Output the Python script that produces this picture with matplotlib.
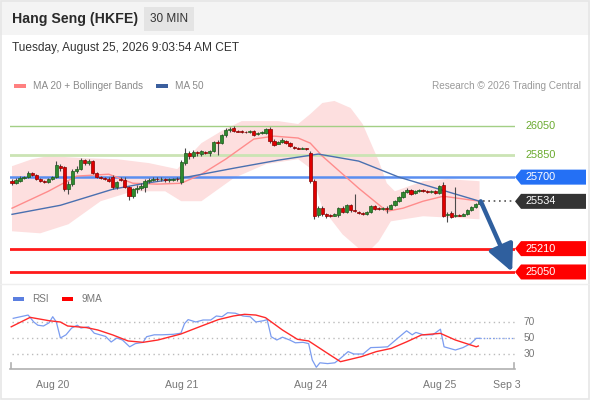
import numpy as np
import matplotlib
matplotlib.use("Agg")
import matplotlib.pyplot as plt
from matplotlib.patches import Rectangle, Polygon
from matplotlib.lines import Line2D

plt.rcParams['font.family'] = ['Liberation Sans', 'DejaVu Sans']

# ---------------- data ----------------
title = "Hang Seng (HKFE)"
timeframe = "30 MIN"
timestamp = "Tuesday, August 25, 2026 9:03:54 AM CET"
credit = "Research \u00a9 2026 Trading Central"

open_ = [25672, 25658, 25672, 25693, 25700, 25727, 25713, 25686, 25672, 25665,
         25686, 25700, 25775, 25768, 25617, 25652, 25741, 25755, 25816, 25796,
         25810, 25727, 25700, 25693, 25690, 25700, 25631, 25686, 25680, 25631,
         25569, 25617, 25624, 25631, 25672, 25679, 25686, 25684, 25688, 25679,
         25682, 25686,
         25665, 25796, 25864, 25844, 25871, 25858, 25871, 25868, 25878, 25940,
         25933, 25988, 26023, 26036, 26016, 26012, 26009, 26006, 26016, 25995,
         26002, 26002, 26029, 25947, 25926, 25940, 25947, 25933, 25906, 25899,
         25896, 25899,
         25864, 25672, 25438, 25487, 25445, 25438, 25435, 25438, 25487, 25459,
         25507, 25473, 25459, 25452, 25445, 25459, 25500, 25487, 25480, 25487,
         25484, 25507, 25535, 25562, 25597, 25610, 25590, 25603, 25610, 25603,
         25597, 25603, 25590,
         25645, 25438, 25452, 25432, 25438, 25435, 25445, 25473, 25494, 25514]
high = [25686, 25693, 25707, 25707, 25741, 25734, 25720, 25693, 25679, 25693,
        25707, 25810, 25789, 25775, 25672, 25755, 25775, 25830, 25823, 25823,
        25816, 25734, 25707, 25700, 25700, 25713, 25672, 25700, 25700, 25638,
        25624, 25645, 25658, 25686, 25693, 25700, 25700, 25700, 25693, 25693,
        25693, 25700,
        25816, 25899, 25878, 25885, 25878, 25885, 25878, 25885, 25947, 25954,
        25995, 26036, 26043, 26050, 26023, 26023, 26016, 26023, 26023, 26009,
        26016, 26036, 26043, 25961, 25947, 25968, 25954, 25940, 25910, 25906,
        25906, 25903,
        25878, 25686, 25500, 25500, 25452, 25445, 25452, 25494, 25500, 25514,
        25514, 25583, 25466, 25459, 25466, 25507, 25507, 25494, 25494, 25500,
        25514, 25542, 25569, 25603, 25624, 25617, 25610, 25617, 25617, 25610,
        25610, 25610, 25645,
        25665, 25459, 25466, 25631, 25445, 25452, 25480, 25500, 25521, 25540]
low = [25645, 25652, 25665, 25686, 25693, 25707, 25679, 25665, 25658, 25658,
       25679, 25693, 25741, 25603, 25583, 25638, 25727, 25748, 25782, 25782,
       25720, 25693, 25686, 25679, 25665, 25617, 25617, 25672, 25624, 25542,
       25555, 25590, 25610, 25597, 25658, 25672, 25672, 25672, 25665, 25665,
       25672, 25672,
       25652, 25782, 25823, 25830, 25844, 25844, 25858, 25844, 25871, 25851,
       25926, 25974, 26009, 26009, 26009, 26002, 26002, 26002, 25981, 25988,
       25995, 25995, 25933, 25913, 25926, 25936, 25926, 25906, 25892, 25892,
       25892, 25885,
       25658, 25411, 25425, 25432, 25418, 25425, 25432, 25425, 25452, 25452,
       25459, 25459, 25445, 25438, 25438, 25452, 25473, 25473, 25476, 25452,
       25480, 25500, 25528, 25555, 25590, 25576, 25583, 25597, 25597, 25590,
       25590, 25583, 25583,
       25425, 25390, 25418, 25425, 25432, 25432, 25438, 25466, 25487, 25507]
close = [25658, 25679, 25693, 25700, 25727, 25713, 25686, 25672, 25665, 25686,
         25700, 25782, 25761, 25617, 25652, 25741, 25755, 25816, 25796, 25810,
         25727, 25700, 25693, 25690, 25672, 25631, 25665, 25680, 25631, 25569,
         25617, 25624, 25638, 25672, 25679, 25686, 25684, 25688, 25679, 25682,
         25686, 25684,
         25803, 25864, 25844, 25871, 25864, 25878, 25868, 25878, 25940, 25936,
         25988, 26023, 26029, 26016, 26012, 26009, 26006, 26016, 25988, 26002,
         26009, 26029, 25947, 25919, 25940, 25954, 25933, 25913, 25899, 25896,
         25899, 25892,
         25672, 25432, 25487, 25445, 25432, 25435, 25445, 25487, 25459, 25507,
         25473, 25466, 25452, 25445, 25459, 25500, 25480, 25480, 25487, 25484,
         25507, 25535, 25562, 25597, 25610, 25583, 25603, 25610, 25603, 25597,
         25603, 25590, 25638,
         25432, 25445, 25425, 25438, 25435, 25445, 25473, 25494, 25514, 25534]

ma20_idx = [0, 9, 16, 24, 30, 36, 42, 47, 53, 60, 65, 71, 74, 77, 86, 93, 97, 102, 107, 116]
ma20_val = [25487, 25603, 25707, 25720, 25658, 25652, 25658, 25720, 25823, 25961,
            25981, 25968, 25933, 25844, 25624, 25466, 25487, 25535, 25569, 25535]

ma50_idx = [0, 12, 25, 33, 42, 55, 66, 76, 86, 96, 106, 116]
ma50_val = [25445, 25507, 25617, 25658, 25693, 25761, 25816, 25858, 25810, 25700, 25617, 25535]

bb_up_idx = [0, 5, 9, 18, 26, 34, 41, 47, 52, 57, 66, 71, 74, 77, 80, 84, 87, 91, 93, 95, 102, 108, 116]
bb_up_val = [25775, 25823, 25844, 25830, 25823, 25796, 25755, 25933, 26016, 26084, 26084,
             26064, 26132, 26208, 26222, 26174, 26064, 25810, 25658, 25603, 25672, 25686, 25672]
bb_lo_idx = [0, 7, 14, 22, 30, 38, 42, 47, 55, 63, 71, 74, 77, 82, 86, 89, 91, 94, 102, 116]
bb_lo_val = [25329, 25315, 25377, 25535, 25603, 25603, 25535, 25535, 25693, 25789, 25823,
             25761, 25487, 25308, 25212, 25205, 25260, 25397, 25432, 25411]

rsi_idx = [0.3, 4.0, 5.4, 6.4, 7.8, 9.2, 10.1, 11.0, 12.0, 13.4, 14.8, 16.2, 17.1, 19.0,
           20.4, 21.8, 23.2, 24.6, 26.0, 27.4, 29.2, 30.6, 32.5, 33.4, 35.3, 37.2, 40.0,
           41.9, 42.8, 43.7, 45.6, 47.4, 49.3, 50.7, 52.1, 53.5, 55.4, 57.3, 59.1, 60.5,
           62.4, 63.3, 64.3, 65.7, 67.1, 68.9, 70.3, 72.2, 73.6, 74.5, 75.5, 76.4, 78.3,
           80.1, 81.5, 83.4, 84.8, 87.1, 89.0, 91.3, 93.2, 96.0, 97.9, 99.3, 100.2, 102.1,
           104.4, 106.3, 107.2, 110.0, 111.9, 113.8, 115.2, 116.1]
rsi_val = [74.6, 78.7, 70, 66, 65, 69, 76.6, 70, 50, 54, 62.5, 66, 62.5, 64,
           56, 54, 52, 45, 50, 47.5, 39, 43, 44.5, 51.6, 54, 54, 54.6,
           56, 68, 73, 70, 72.5, 72.5, 77.5, 76.6, 81.6, 81, 77.5, 76.6, 70,
           71.6, 73, 51.6, 47.5, 51, 47.5, 44, 44.6, 43, 22.5, 13.4, 19, 18,
           19, 24.6, 33, 30, 30, 38, 38.4, 39, 51, 59, 54, 57, 54,
           54, 61, 39, 35, 38, 43, 49.6, 49.6]
rsi_ma_idx = [-0.2, 4.5, 9.2, 12.0, 13.8, 18.5, 21.3, 25.0, 28.8, 32.5, 36.2, 41.9, 46.5,
              51.2, 54.9, 57.7, 60.5, 62.9, 67.1, 70.8, 73.6, 78.3, 81.5, 86.7, 90.4,
              94.1, 98.0, 101.6, 106.3, 110.0, 115.2, 115.7]
rsi_ma_val = [64, 75.8, 71.6, 70, 65, 63, 60, 53.8, 46.3, 44.6, 47.5, 55, 64,
              73, 77.5, 79.6, 78.7, 75.4, 60, 48.4, 46.3, 30.8, 20.4, 26.7, 33,
              37, 45.4, 53.8, 55.8, 47.5, 39, 40]
rsi_levels = [70, 50, 30]

tick_pos = [10.2, 42.2, 74.2, 106.2, 122.8]
tick_labels = ["Aug 20", "Aug 21", "Aug 24", "Aug 25", "Sep 3"]

resistances = [26050, 25850]
pivot = 25700
last_price = 25534
supports = [25210, 25050]
target_idx = 124.1

# ---------------- figure ----------------
W, H = 590, 400
fig = plt.figure(figsize=(W / 100, H / 100), dpi=100)
fig.patch.set_facecolor("white")

def fx(px):
    return px / W

def fy(py):
    return 1 - py / H

# header band + border
fig.patches.append(Rectangle((0, fy(35)), 1, fy(0) - fy(35), transform=fig.transFigure,
                             facecolor="#f4f4f4", edgecolor="none", zorder=0))
fig.patches.append(Rectangle((fx(144), fy(31)), fx(50), fy(7) - fy(31), transform=fig.transFigure,
                             facecolor="#e4e4e4", edgecolor="none", zorder=1))
fig.patches.append(Rectangle((0.001, 0.002), 0.997, 0.996, transform=fig.transFigure,
                             facecolor="none", edgecolor="#e6e6e6", lw=1.2, zorder=1))
fig.lines.append(Line2D([0, 1], [fy(284), fy(284)], transform=fig.transFigure,
                        color="#eeeeee", lw=1))

fig.text(fx(12), fy(19), title, fontsize=10.2, fontweight="bold", color="#2a2a2a", va="center")
fig.text(fx(169), fy(19), timeframe, fontsize=8.5, color="#333333", va="center", ha="center")
fig.text(fx(12), fy(48), timestamp, fontsize=8.6, color="#333333", va="center")

# legend row
fig.patches.append(Rectangle((fx(14), fy(88)), fx(12), fy(84) - fy(88), transform=fig.transFigure,
                             facecolor="#ff8080", edgecolor="none"))
fig.text(fx(33), fy(86), "MA 20 + Bollinger Bands", fontsize=7.2, color="#8a8a8a", va="center")
fig.patches.append(Rectangle((fx(156), fy(88)), fx(12), fy(84) - fy(88), transform=fig.transFigure,
                             facecolor="#3b5f9e", edgecolor="none"))
fig.text(fx(175), fy(86), "MA 50", fontsize=7.2, color="#8a8a8a", va="center")
fig.text(fx(581), fy(86), credit, fontsize=7.2, color="#9a9a9a", va="center", ha="right")

# ---------------- main price axes ----------------
ax = fig.add_axes([fx(10), fy(283.5), fx(505), fy(96) - fy(283.5)])
ax.set_xlim(-0.5, 124.8)
ax.set_ylim(24971, 26256)
ax.axis("off")

# bollinger band and MAs
ax.fill(np.r_[bb_up_idx, bb_lo_idx[::-1]], np.r_[bb_up_val, bb_lo_val[::-1]],
        color="#fddfdf", lw=0, zorder=1)
ax.plot(ma20_idx, ma20_val, color="#ff8c8c", lw=1.0, zorder=3)
ax.plot(ma50_idx, ma50_val, color="#4a70b0", lw=1.0, zorder=3)

# level lines
x0, x1 = ax.get_xlim()
ax.plot([x0, x1], [resistances[0]] * 2, color="#a3cf85", lw=1.0, zorder=2)
ax.plot([x0, x1], [resistances[1]] * 2, color="#cbe4b4", lw=2.0, zorder=2)
ax.plot([x0, x1], [pivot] * 2, color="#5a8ef0", lw=1.8, zorder=2)
for s in supports:
    ax.plot([x0, x1], [s] * 2, color="#ff1a1a", lw=2.0, zorder=2)
ax.plot([len(close) - 0.2, x1], [last_price] * 2, color="#555555", lw=1.2,
        ls=(0, (1, 2.2)), zorder=2)

# candles
idx = np.arange(len(close))
o = np.array(open_, float)
c = np.array(close, float)
h = np.array(high, float)
l = np.array(low, float)
ax.vlines(idx, l, h, color="#4a4a4a", lw=0.8, zorder=4)
up = c >= o
body_lo = np.minimum(o, c)
body_h = np.maximum(np.abs(c - o), 5)
ax.bar(idx[up], body_h[up], bottom=body_lo[up], width=0.8, color="#2f8a2f",
       edgecolor="#1d5a1d", lw=0.5, zorder=5)
ax.bar(idx[~up], body_h[~up], bottom=body_lo[~up], width=0.8, color="#e00000",
       edgecolor="#8a0000", lw=0.5, zorder=5)

# forecast arrow
ax.annotate("", xy=(target_idx, supports[1]), xytext=(len(close) - 0.7, last_price),
            arrowprops=dict(arrowstyle="-|>,head_length=1.35,head_width=0.65", lw=3.2,
                            color="#2f5f9e", shrinkA=0, shrinkB=0, mutation_scale=12),
            annotation_clip=False, zorder=6)

# right-side labels
fig.canvas.draw()
def price_to_fy(p):
    return ax.transData.transform((0, p))[1] / fig.bbox.height

for r in resistances:
    fig.text(fx(525), price_to_fy(r), f"{r}", fontsize=7.8, color="#6aaa2e", va="center")

def tag(price, color):
    yc = price_to_fy(price)
    hh = 7.5 / H
    pts = [(fx(515), yc), (fx(521), yc - hh), (fx(586), yc - hh), (fx(586), yc + hh), (fx(521), yc + hh)]
    fig.patches.append(Polygon(pts, closed=True, transform=fig.transFigure,
                               facecolor=color, edgecolor="none", zorder=3))
    fig.text(fx(526), yc, f"{price}", fontsize=7.8, color="white", va="center", zorder=4)

tag(pivot, "#2470f5")
tag(last_price, "#333333")
for s in supports:
    tag(s, "#ff0000")

# ---------------- RSI axes ----------------
rx = fig.add_axes([fx(10), fy(369), fx(505), fy(305) - fy(369)])
rx.set_xlim(-0.5, 124.8)
rx.set_ylim(11.25, 91.25)
for sp in ["top", "right", "left"]:
    rx.spines[sp].set_visible(False)
rx.spines["bottom"].set_color("#b0b0b0")
rx.spines["bottom"].set_linewidth(1.2)
rx.set_yticks([])
rx.set_xticks(tick_pos)
rx.set_xticklabels(tick_labels, fontsize=7.6, color="#777777")
rx.tick_params(axis="x", length=0, pad=8)
rx.axvline(-0.3, ymin=0, ymax=0.09, color="#b0b0b0", lw=1.2)
rx.axvline(124.6, ymin=0, ymax=0.09, color="#b0b0b0", lw=1.2)
for lv in rsi_levels:
    rx.plot([0, 124.8], [lv, lv], color="#bbbbbb", lw=1.0, ls=(0, (1, 2.5)))
    fig.text(fx(524), fy(338 - (lv - 50) * 0.8), f"{lv}", fontsize=7.3, color="#777777", va="center")
rx.plot(rsi_idx, rsi_val, color="#7b9cf0", lw=0.9, zorder=3)
rx.plot([rsi_idx[-1], 124.8], [rsi_val[-1]] * 2, color="#7b9cf0", lw=0.9, ls=(0, (1, 1.5)))
rx.plot(rsi_ma_idx, rsi_ma_val, color="#ff2a2a", lw=1.0, zorder=4)

fig.patches.append(Rectangle((fx(13), fy(301)), fx(11), fy(297) - fy(301), transform=fig.transFigure,
                             facecolor="#5b7fe0", edgecolor="none"))
fig.text(fx(32), fy(299), "RSI", fontsize=7.2, color="#777777", va="center")
fig.patches.append(Rectangle((fx(62), fy(301)), fx(11), fy(297) - fy(301), transform=fig.transFigure,
                             facecolor="#ff0000", edgecolor="none"))
fig.text(fx(81), fy(299), "9MA", fontsize=7.2, color="#777777", va="center")

fig.savefig("out.png", dpi=100)
